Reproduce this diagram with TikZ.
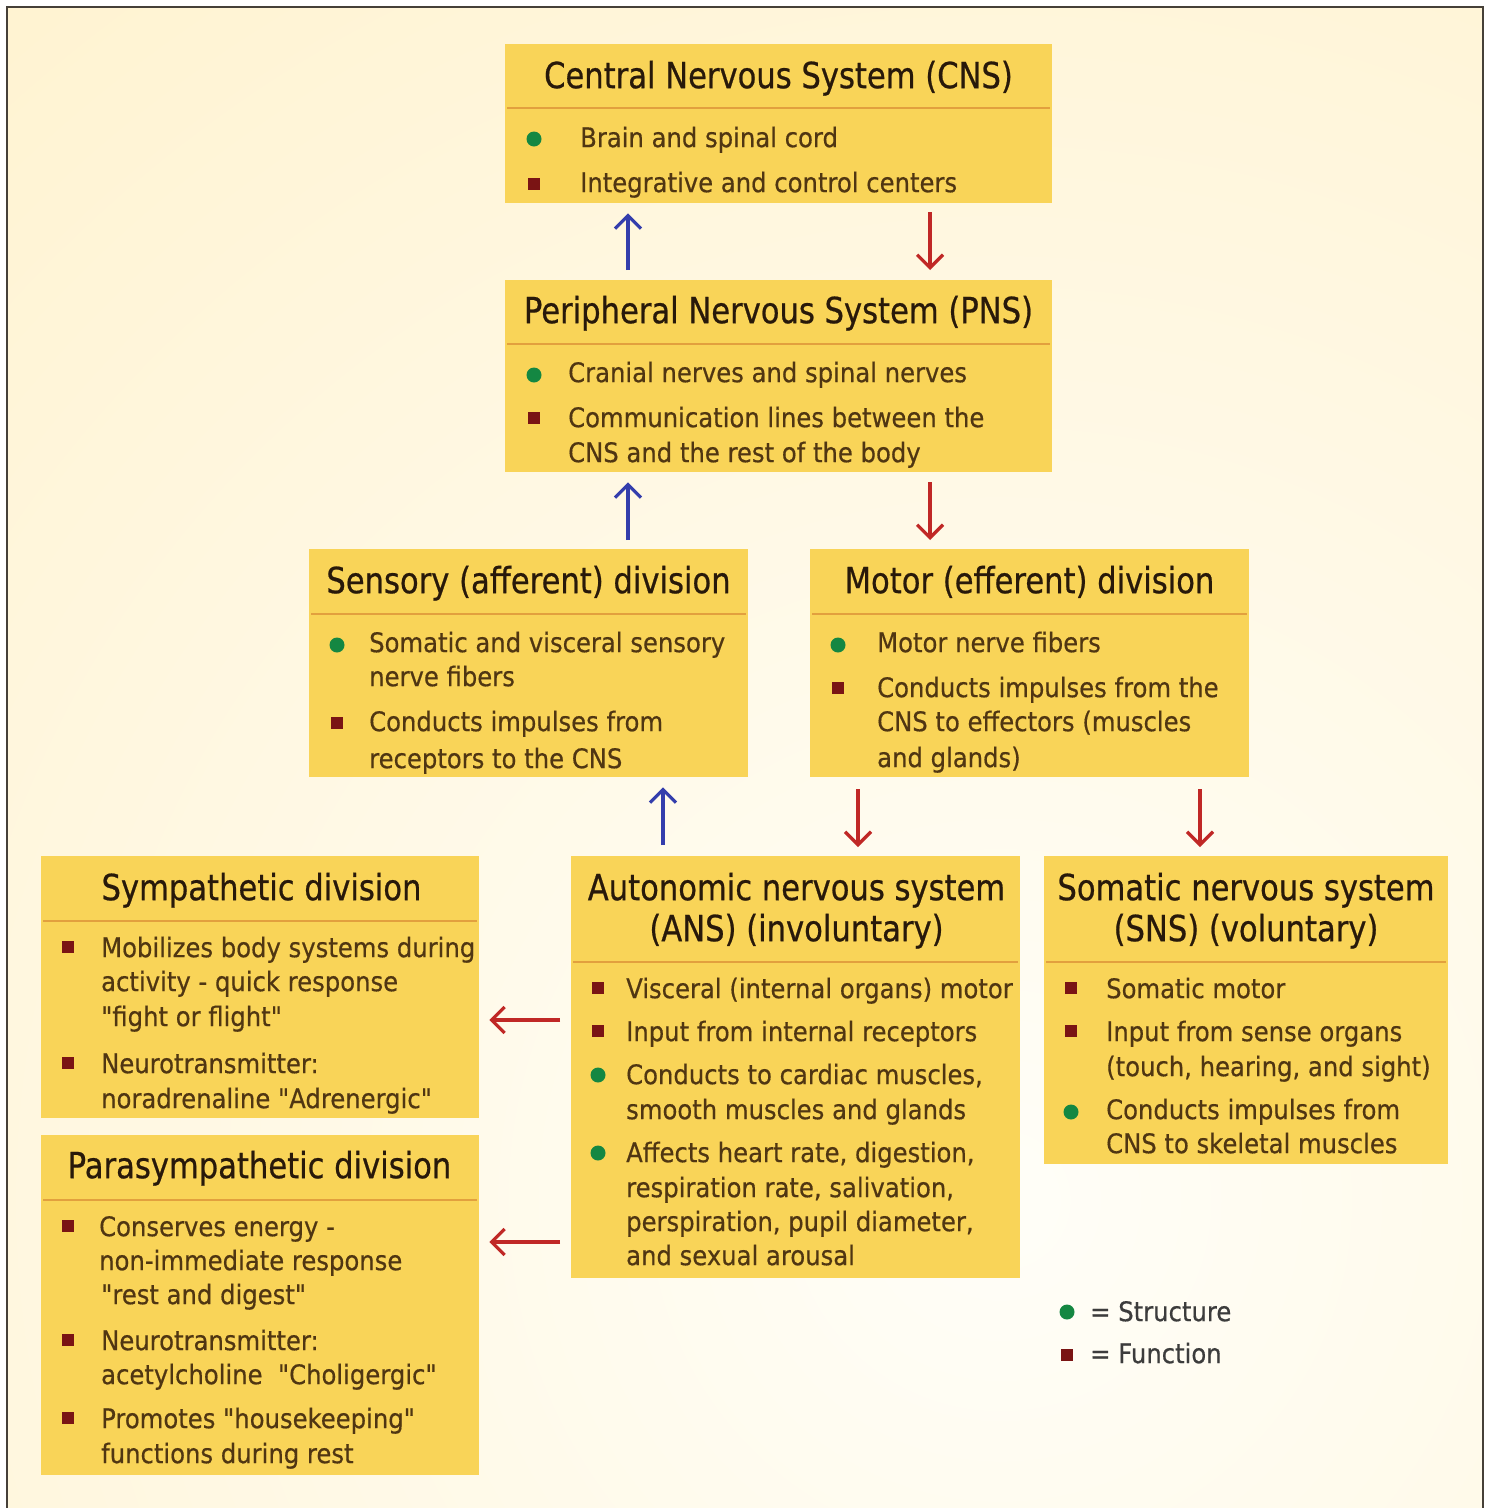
\documentclass[tikz,border=0pt]{standalone}
\usepackage{fontspec}
\usetikzlibrary{arrows.meta}
\newfontfamily\ttlfont[FakeStretch=0.85,FakeBold=0.6]{DejaVu Sans}
\newfontfamily\bdyfont[FakeStretch=0.9,FakeBold=0.5]{DejaVu Sans}
\definecolor{boxfill}{RGB}{249,212,88}
\definecolor{divcol}{RGB}{226,160,62}
\definecolor{ttlcol}{RGB}{40,25,10}
\definecolor{bdycol}{RGB}{80,54,18}
\definecolor{legcol}{RGB}{60,60,60}
\definecolor{dotgreen}{RGB}{20,135,66}
\definecolor{sqred}{RGB}{122,20,20}
\definecolor{arrblue}{RGB}{52,62,172}
\definecolor{arrred}{RGB}{192,40,38}
\definecolor{bgin}{RGB}{255,254,248}
\definecolor{bgout}{RGB}{255,238,192}
\definecolor{framecol}{RGB}{70,64,56}
\tikzset{
  box/.style={rectangle, fill=boxfill, draw=none, inner sep=0pt},
  divider/.style={draw=divcol, line width=2.5pt},
  ttl/.style={font=\ttlfont\fontsize{36}{41}\selectfont, text=ttlcol, inner sep=0pt, anchor=mid, yshift=-6pt},
  bdy/.style={font=\bdyfont\fontsize{27}{34}\selectfont, text=bdycol, inner sep=0pt, anchor=mid west, yshift=-6pt},
  leg/.style={font=\bdyfont\fontsize{27}{34}\selectfont, text=legcol, inner sep=0pt, anchor=mid west, yshift=-5pt},
  gdot/.style={circle, fill=dotgreen, minimum size=15pt, inner sep=0pt},
  rsq/.style={rectangle, fill=sqred, minimum size=12pt, inner sep=0pt},
  bluearr/.style={draw=arrblue, line width=3.2pt, -{Straight Barb[length=13pt,width=26pt]}},
  redarr/.style={draw=arrred, line width=3.2pt, -{Straight Barb[length=13pt,width=26pt]}},
}
\newcommand\mkbox[5]{\node[box,anchor=north west,minimum width=#4pt,minimum height=#5pt] (#1) at (#2,#3) {};}
\newcommand\mkdiv[2]{\draw[divider] ([xshift=2pt,yshift=-#2pt]#1.north west) -- ([xshift=-2pt,yshift=-#2pt]#1.north east);}
\newcommand\txl[4]{\node[bdy] (#1) at (#2,#3) {#4};}
\begin{document}
\begin{tikzpicture}[x=1pt,y=-1pt]
\useasboundingbox (0,0) rectangle (1486,1508);
% background
\fill[white] (0,0) rectangle (1486,1508);
\begin{scope}
\clip (7,7) rectangle (1483,1508);
\shade[inner color=bgin, outer color=bgout] (-1250,-1050) rectangle (3250,3450);
\end{scope}
\draw[framecol, line width=2pt] (7,1508) -- (7,7) -- (1483,7) -- (1483,1508);

% ---------- CNS
\mkbox{cns}{505}{44}{547}{159}
\mkdiv{cns}{64}
\node[ttl] (cnsT) at (778.5,80) {Central Nervous System (CNS)};
\node[gdot] (cnsB1) at (534,139) {};
\txl{cns1}{580}{139}{Brain and spinal cord}
\node[rsq] (cnsB2) at (534,184) {};
\txl{cns2}{580}{184}{Integrative and control centers}

% ---------- PNS
\mkbox{pns}{505}{280}{547}{192}
\mkdiv{pns}{64}
\node[ttl] (pnsT) at (778.5,315) {Peripheral Nervous System (PNS)};
\node[gdot] (pnsB1) at (534,375) {};
\txl{pns1}{568}{374}{Cranial nerves and spinal nerves}
\node[rsq] (pnsB2) at (534,418) {};
\txl{pns2}{568}{419}{Communication lines between the}
\txl{pns3}{568}{454}{CNS and the rest of the body}

% ---------- Sensory
\mkbox{sen}{309}{549}{439}{228}
\mkdiv{sen}{65}
\node[ttl] (senT) at (528.5,585) {Sensory (afferent) division};
\node[gdot] (senB1) at (337,645) {};
\txl{sen1}{369}{644}{Somatic and visceral sensory}
\txl{sen2}{369}{678}{nerve fibers}
\node[rsq] (senB2) at (337,723) {};
\txl{sen3}{369}{723}{Conducts impulses from}
\txl{sen4}{369}{760}{receptors to the CNS}

% ---------- Motor
\mkbox{mot}{810}{549}{439}{228}
\mkdiv{mot}{65}
\node[ttl] (motT) at (1029.5,585) {Motor (efferent) division};
\node[gdot] (motB1) at (838,645) {};
\txl{mot1}{877}{644}{Motor nerve fibers}
\node[rsq] (motB2) at (838,688) {};
\txl{mot2}{877}{689}{Conducts impulses from the}
\txl{mot3}{877}{723}{CNS to effectors (muscles}
\txl{mot4}{877}{759}{and glands)}

% ---------- Sympathetic
\mkbox{sym}{41}{856}{438}{262}
\mkdiv{sym}{65}
\node[ttl] (symT) at (261.5,892) {Sympathetic division};
\node[rsq] (symB1) at (68,947) {};
\txl{sym1}{101}{949}{Mobilizes body systems during}
\txl{sym2}{101}{983}{activity - quick response}
\txl{sym3}{101}{1018}{"fight or flight"}
\node[rsq] (symB2) at (68,1063) {};
\txl{sym4}{101}{1065}{Neurotransmitter:}
\txl{sym5}{101}{1100}{noradrenaline "Adrenergic"}

% ---------- Parasympathetic
\mkbox{par}{41}{1135}{438}{340}
\mkdiv{par}{65}
\node[ttl] (parT) at (259.5,1170) {Parasympathetic division};
\node[rsq] (parB1) at (68,1226) {};
\txl{par1}{99}{1228}{Conserves energy -}
\txl{par2}{99}{1262}{non-immediate response}
\txl{par3}{101}{1296}{"rest and digest"}
\node[rsq] (parB2) at (68,1340) {};
\txl{par4}{101}{1342}{Neurotransmitter:}
\txl{par5}{101}{1376}{acetylcholine \ "Choligergic"}
\node[rsq] (parB3) at (68,1418) {};
\txl{par6}{101}{1420}{Promotes "housekeeping"}
\txl{par7}{101}{1455}{functions during rest}

% ---------- ANS
\mkbox{ans}{571}{856}{449}{422}
\mkdiv{ans}{106}
\node[ttl] (ansT1) at (796.5,892) {Autonomic nervous system};
\node[ttl] (ansT2) at (796.5,933) {(ANS) (involuntary)};
\node[rsq] (ansB1) at (598,988) {};
\txl{ans1}{626}{990}{Visceral (internal organs) motor}
\node[rsq] (ansB2) at (598,1031) {};
\txl{ans2}{626}{1033}{Input from internal receptors}
\node[gdot] (ansB3) at (598,1075) {};
\txl{ans3}{626}{1076}{Conducts to cardiac muscles,}
\txl{ans4}{626}{1111}{smooth muscles and glands}
\node[gdot] (ansB4) at (598,1153) {};
\txl{ans5}{626}{1154}{Affects heart rate, digestion,}
\txl{ans6}{626}{1189}{respiration rate, salivation,}
\txl{ans7}{626}{1223}{perspiration, pupil diameter,}
\txl{ans8}{626}{1257}{and sexual arousal}

% ---------- SNS
\mkbox{sns}{1044}{856}{404}{308}
\mkdiv{sns}{106}
\node[ttl] (snsT1) at (1246,892) {Somatic nervous system};
\node[ttl] (snsT2) at (1246,933) {(SNS) (voluntary)};
\node[rsq] (snsB1) at (1071,988) {};
\txl{sns1}{1106}{990}{Somatic motor}
\node[rsq] (snsB2) at (1071,1031) {};
\txl{sns2}{1106}{1033}{Input from sense organs}
\txl{sns3}{1106}{1068}{(touch, hearing, and sight)}
\node[gdot] (snsB3) at (1071,1112) {};
\txl{sns4}{1106}{1111}{Conducts impulses from}
\txl{sns5}{1106}{1145}{CNS to skeletal muscles}

% ---------- Legend
\node[gdot] (legB1) at (1067,1312) {};
\node[leg] (leg1) at (1090,1314) {= Structure};
\node[rsq] (legB2) at (1067,1355) {};
\node[leg] (leg2) at (1090,1356) {= Function};

% ---------- Arrows
\coordinate (x628) at (628,0);
\coordinate (x930) at (930,0);
\coordinate (x663) at (663,0);
\coordinate (x858) at (858,0);
\coordinate (x1200) at (1200,0);
\coordinate (y1020) at (0,1020);
\coordinate (y1242) at (0,1242);
\draw[bluearr, shorten <=10pt, shorten >=10pt] (pns.north -| x628) -- (cns.south -| x628);
\draw[redarr, shorten <=9pt, shorten >=10pt] (cns.south -| x930) -- (pns.north -| x930);
\draw[bluearr, shorten <=9pt, shorten >=10pt] (sen.north -| x628) -- (pns.south -| x628);
\draw[redarr, shorten <=10pt, shorten >=9pt] (pns.south -| x930) -- (sen.north -| x930);
\draw[bluearr, shorten <=11pt, shorten >=10pt] (ans.north -| x663) -- (sen.south -| x663);
\draw[redarr, shorten <=12pt, shorten >=9pt] (mot.south -| x858) -- (ans.north -| x858);
\draw[redarr, shorten <=12pt, shorten >=9pt] (mot.south -| x1200) -- (sns.north -| x1200);
\draw[redarr, shorten <=11pt, shorten >=10pt] (ans.west |- y1020) -- (sym.east |- y1020);
\draw[redarr, shorten <=11pt, shorten >=10pt] (ans.west |- y1242) -- (par.east |- y1242);
\end{tikzpicture}
\end{document}
